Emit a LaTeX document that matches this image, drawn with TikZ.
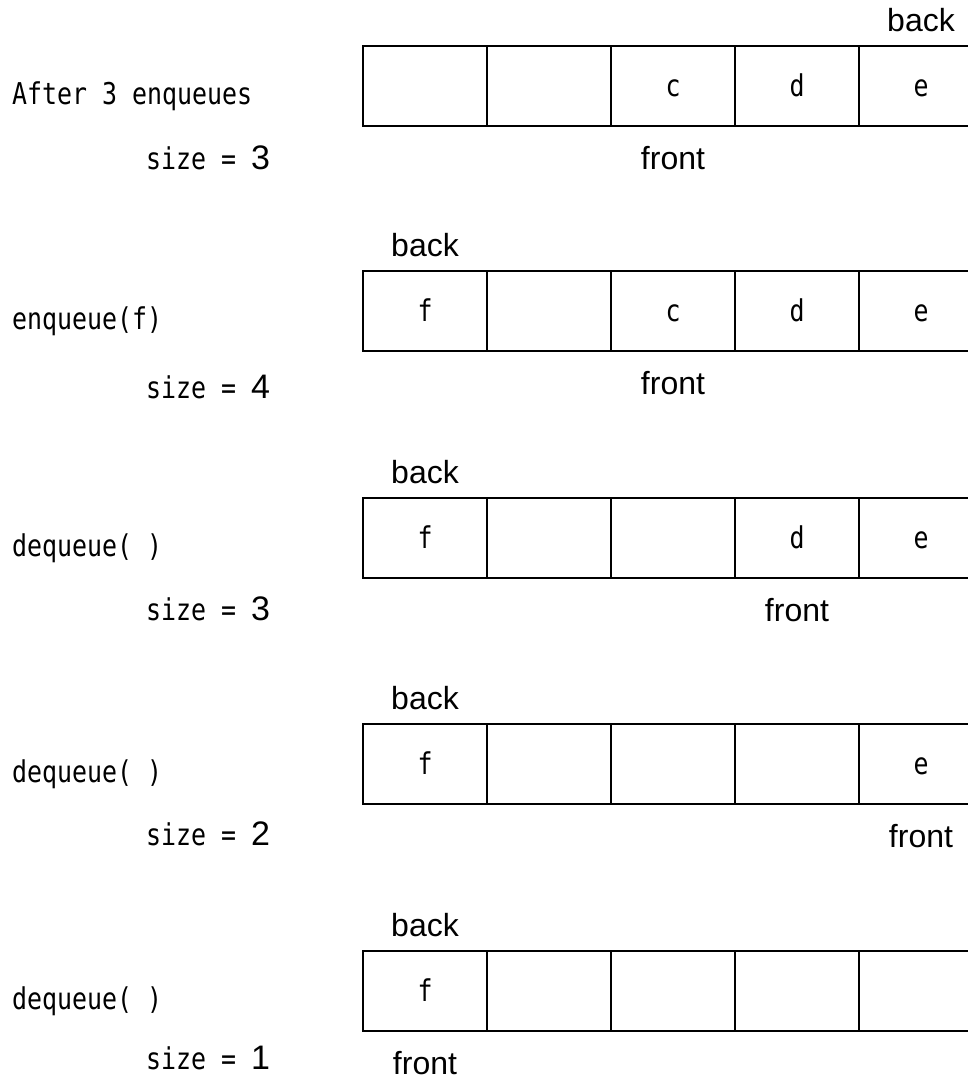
\documentclass[tikz,border=0pt]{standalone}
\usepackage{fontspec}
\setmainfont{Liberation Sans}
\newfontfamily\narrowmono[FakeStretch=0.83]{DejaVu Sans Mono}
\newfontfamily\ptrfamily{Liberation Sans}
\newcommand\ptrfont{\ptrfamily\fontsize{32}{35}\selectfont}
\newcommand\sizefont{\ptrfamily\fontsize{34}{37}\selectfont}
\usetikzlibrary{positioning}

\begin{document}
\begin{tikzpicture}[
			x=1pt, y=-1pt,
			cell/.style={
				draw, line width=1.8pt,
				minimum width=124pt, minimum height=80pt,
				inner sep=0pt, text height=21pt, text depth=0pt,
				font=\narrowmono\fontsize{30}{32}\selectfont
			},
			op label/.style={anchor=base west, inner sep=0pt, font=\narrowmono\fontsize{30}{32}\selectfont},
			ptr label/.style={inner sep=0pt, font=\ptrfont}
			]
			\clip (0,0) rectangle (968,1078);
			
			% one row per queue state: cells, back, front, operation, size
			\foreach \r/\top/\cells/\bk/\fr/\op/\sz/\sy in {
				1/46/{{},{},c,d,e}/5/3/After 3 enqueues/3/170,
				2/271/{f,{},c,d,e}/1/3/enqueue(f)/4/398,
				3/498/{f,{},{},d,e}/1/4/dequeue( )/3/620,
				4/724/{f,{},{},{},e}/1/5/dequeue( )/2/845,
				5/951/{f,{},{},{},{}}/1/1/dequeue( )/1/1069}
			{
				\foreach \t [count=\i] in \cells
					\node[cell] (q\r-\i) at (363+124*\i-62, \top+40) {\t};
				
				\node[ptr label, above=13pt of q\r-\bk] (back\r) {back};
				\node[ptr label, below=19pt of q\r-\fr] (front\r) {front};
				
				\node[op label] (op\r) at (12, \top+58.5) {\op};
				\node[op label] (size\r) at (146, \sy) {size = {\sizefont\sz}};
			}
			
		\end{tikzpicture}
\end{document}
